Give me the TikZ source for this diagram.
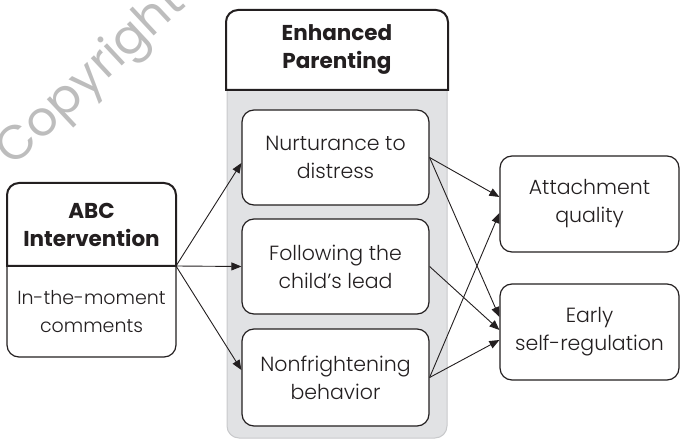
\documentclass[tikz,border=0pt]{standalone}
\usepackage{fontspec}
\setmainfont{Poppins}[UprightFont=* Light, BoldFont=* Bold]
\newfontfamily\wmfont{Poppins}
\usetikzlibrary{arrows.meta,calc}
\definecolor{ink}{HTML}{231F20}
\definecolor{colfill}{HTML}{E1E2E4}
\definecolor{coledge}{HTML}{C8C9CB}
\definecolor{wmgray}{HTML}{BDBDBD}
\begin{document}
\begin{tikzpicture}[x=1pt,y=1pt,
  txt/.style={align=center, text=ink, font=\fontsize{19}{28}\selectfont},
  hdrtxt/.style={align=center, text=ink, font=\bfseries\fontsize{21.5}{28}\selectfont},
  inbox/.style={draw=ink, line width=1.2pt, rounded corners=12pt, fill=white,
     align=center, text=ink, font=\fontsize{20.5}{28}\selectfont, inner sep=0pt},
  conn/.style={draw=ink, line width=0.9pt, -{Triangle[length=10pt,width=8pt]}}
]
\useasboundingbox (0,0) rectangle (680,442);
% watermark
\begin{scope}
\clip (0,0) rectangle (680,442);
\node[rotate=43, text=wmgray, font=\wmfont\fontsize{48}{48}\selectfont] (wm) at (92,364) {Copyright};
\end{scope}
% grey column
\draw[draw=coledge, fill=colfill, line width=1pt] (227,352) -- (227,16) arc[start angle=180,end angle=270,radius=12] -- (435,4) arc[start angle=270,end angle=360,radius=12] -- (447,352);
% header
\draw[draw=ink, line width=2pt, fill=white] (226,352) -- (226,420) arc[start angle=180,end angle=90,radius=12] -- (436,432) arc[start angle=90,end angle=0,radius=12] -- (448,352) -- cycle;
\node[hdrtxt] (hdr) at (337,392) {Enhanced\\Parenting};
% ABC box
\draw[draw=ink, line width=1.2pt, fill=white] (7,176) -- (7,97) arc[start angle=180,end angle=270,radius=12] -- (164,85) arc[start angle=270,end angle=360,radius=12] -- (176,176);
\draw[draw=ink, line width=2pt, fill=white] (7,176) -- (7,247) arc[start angle=180,end angle=90,radius=12] -- (164,259) arc[start angle=90,end angle=0,radius=12] -- (176,176) -- cycle;
\node[hdrtxt] (abcT) at (91.5,217.5) {ABC\\Intervention};
\node[txt] (abcB) at (91.5,130.5) {In-the-moment\\comments};
\coordinate (src) at (176,176);
% middle boxes
\node[inbox, minimum width=187pt, minimum height=95pt] (nur) at (335.5,284.5) {Nurturance to\\distress};
\node[inbox, minimum width=187pt, minimum height=95pt] (fol) at (335.5,175.5) {Following the\\child’s lead};
\node[inbox, minimum width=187pt, minimum height=97pt] (non) at (335.5,64.5) {Nonfrightening\\behavior};
% right boxes
\node[inbox, minimum width=179pt, minimum height=96pt] (att) at (589.5,238) {Attachment\\quality};
\node[inbox, minimum width=179pt, minimum height=96pt] (ear) at (589.5,110) {Early\\self-regulation};
% connectors from ABC
\draw[conn] (src) -- ($(nur.west)+(0,-5.5)$);
\draw[conn] (src) -- (fol.west);
\draw[conn] (src) -- ($(non.west)+(0,7.5)$);
% connectors to outcomes
\draw[conn] (nur.east) -- ($(att.west)+(0,7)$);
\draw[conn] (nur.east) -- ($(ear.west)+(0,15)$);
\draw[conn] (fol.east) -- ($(ear.west)+(0,2)$);
\draw[conn] (non.east) -- ($(att.west)+(0,-9)$);
\draw[conn] (non.east) -- ($(ear.west)+(0,-8)$);
\end{tikzpicture}
\end{document}
